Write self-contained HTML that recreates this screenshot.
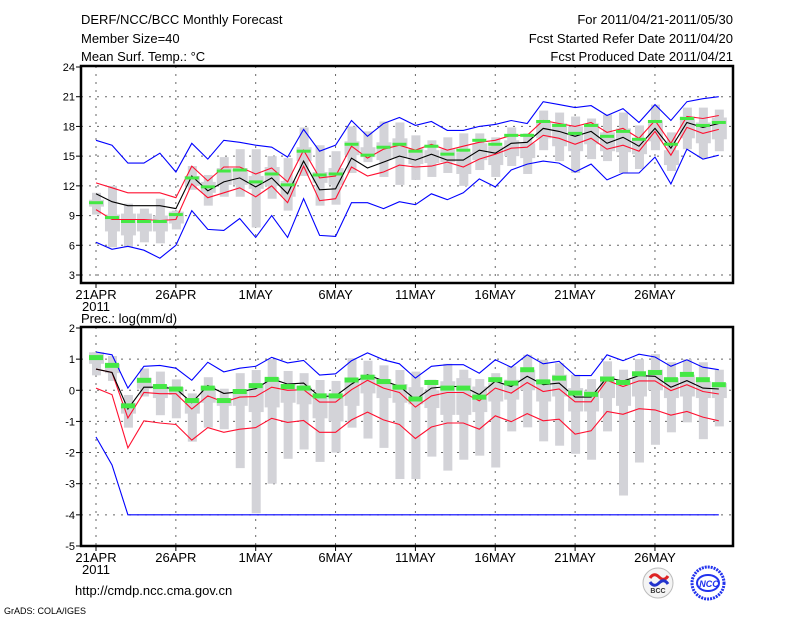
<!DOCTYPE html>
<html><head><meta charset="utf-8"><style>
body{margin:0;background:#fff;}
svg{display:block;font-family:"Liberation Sans",sans-serif;}
.t{font-size:13px;fill:#000;}
.s{font-size:11px;fill:#000;}
</style></head><body>
<svg id="chart" width="800" height="618" viewBox="0 0 800 618" xmlns="http://www.w3.org/2000/svg">
<rect width="800" height="618" fill="#fff"/>
<text class="t" x="81" y="24">DERF/NCC/BCC Monthly Forecast</text>
<text class="t" x="81" y="43">Member Size=40</text>
<text class="t" x="81" y="61">Mean Surf. Temp.: °C</text>
<text class="t" x="733" y="24" text-anchor="end">For 2011/04/21-2011/05/30</text>
<text class="t" x="733" y="43" text-anchor="end">Fcst Started Refer Date 2011/04/20</text>
<text class="t" x="733" y="61" text-anchor="end">Fcst Produced Date 2011/04/21</text>
<text class="t" x="81" y="323">Prec.: log(mm/d)</text>
<text class="t" x="75" y="595">http://cmdp.ncc.cma.gov.cn</text>
<text x="4" y="614" style="font-size:9px">GrADS: COLA/IGES</text>
<g>
<circle cx="658" cy="583" r="15" fill="#f4f4f4" stroke="#bbb"/>
<path d="M650 578 q4 -6 9 -1 q5 5 9 -1" stroke="#d22" stroke-width="3" fill="none"/>
<path d="M650 582 q4 6 9 1 q5 -5 9 1" stroke="#23c" stroke-width="3" fill="none"/>
<text x="658" y="593" text-anchor="middle" style="font-size:7px;font-weight:bold" fill="#333">BCC</text>
</g>
<g>
<circle cx="708" cy="583" r="16" fill="none" stroke="#23e" stroke-width="3" stroke-dasharray="2 1"/>
<ellipse cx="708" cy="583" rx="11" ry="8" fill="none" stroke="#23e" stroke-width="2"/>
<text x="709" y="587" text-anchor="middle" style="font-size:9px;font-weight:bold;font-style:italic" fill="#23e">NCC</text>
</g>
<g id="top"></g>
<g id="bot"></g>
</svg>
<script>
// Day index 0..39 starting 21APR 2011
const xTickDays = [0,5,10,15,20,25,30,35];
const xTickLabels = ["21APR","26APR","1MAY","6MAY","11MAY","16MAY","21MAY","26MAY"];

// ---- Temperature panel ----
const tTicks = [3,6,9,12,15,18,21,24];
const tBlueHi = [16.6,16.1,14.3,14.3,15.3,13.4,16.3,14.7,16.6,16.4,16.1,15.9,14.9,17.7,15.5,16.1,18.6,17.0,18.3,18.9,18.1,18.5,17.6,17.6,18.0,18.2,18.6,18.3,20.5,20.2,19.9,20.1,19.1,19.8,18.4,20.2,18.6,20.5,20.8,21.0];
const tBlueLo = [6.3,5.6,5.9,5.5,4.7,6.0,9.5,7.6,7.5,8.7,6.8,9.0,6.8,10.7,7.0,6.9,10.3,10.3,9.7,10.4,10.1,11.2,10.6,11.3,12.7,11.9,13.6,14.2,14.5,14.3,13.4,14.2,12.6,13.3,13.3,14.9,12.2,15.7,14.7,15.1];
const tRedHi = [12.3,11.8,11.3,11.3,11.3,10.8,14.0,12.5,13.9,13.9,13.2,13.8,12.4,15.6,12.8,13.0,16.0,14.8,15.7,16.1,15.6,16.2,15.6,16.0,16.4,16.6,17.1,17.1,18.6,18.3,18.0,18.4,17.4,17.8,16.8,18.6,16.3,19.0,18.8,19.1];
const tRedLo = [9.6,8.6,8.6,8.6,8.5,8.6,12.2,10.8,11.3,11.8,10.9,12.0,10.3,14.0,10.5,10.7,13.9,13.0,13.4,14.1,13.9,14.0,14.4,13.9,14.7,15.2,15.8,15.9,17.1,16.8,16.2,16.8,15.7,16.1,15.5,17.5,15.1,17.9,17.3,17.7];
const tMean = [11.2,10.4,10.0,10.0,10.0,9.7,13.0,11.5,12.4,12.8,11.9,12.8,11.2,14.5,11.6,11.7,14.8,13.8,14.4,15.0,14.6,15.2,14.6,14.6,15.6,15.3,16.3,16.4,17.8,17.5,17.0,17.5,16.3,16.9,16.0,17.8,15.8,18.4,17.9,18.3];
const tGreen = [10.3,8.8,8.4,8.4,8.4,9.1,12.8,11.9,13.5,13.6,12.4,13.2,12.1,15.5,13.1,13.2,16.2,15.1,15.9,16.2,15.5,16.0,15.2,15.6,16.6,16.2,17.1,17.1,18.5,18.1,17.3,18.1,17.0,17.5,16.7,18.5,16.2,18.8,18.1,18.4];
const tMin = [9.1,5.8,5.8,6.3,6.2,7.6,11.6,10.0,10.9,10.9,7.8,10.7,9.5,13.0,10.0,10.1,13.3,14.4,12.9,12.1,12.6,12.9,13.3,12.0,13.6,12.9,14.0,13.2,15.6,14.5,13.3,14.7,14.5,13.3,13.7,15.6,13.5,15.7,14.8,15.5];
const tMax = [11.3,12.0,10.2,9.7,10.7,9.5,14.0,13.1,14.9,15.7,15.7,15.0,14.8,17.9,16.1,15.5,18.0,17.5,18.5,18.4,17.1,16.6,16.9,17.3,17.3,16.9,17.9,17.3,19.6,19.4,19.0,18.8,19.2,19.4,18.1,20.2,17.4,19.9,19.9,19.7];
const tQ1 = [9.9,7.4,7.0,7.4,7.4,8.2,12.0,11.3,12.1,12.1,11.7,12.0,10.9,14.5,12.3,12.1,15.1,14.9,14.6,14.8,14.2,14.3,14.4,13.2,14.6,14.1,15.0,14.8,16.8,16.0,15.5,16.2,15.5,15.4,15.2,16.5,14.1,16.8,16.3,16.7];
const tQ3 = [10.6,9.1,9.2,9.2,9.0,9.4,13.0,12.4,13.8,13.8,13.0,13.9,12.5,15.9,13.4,13.8,16.5,15.9,16.4,16.8,15.8,15.6,15.7,15.4,16.3,16.0,16.6,16.3,18.4,18.3,18.0,18.3,17.4,17.8,16.7,18.6,15.6,19.0,18.4,18.9];

// ---- Precipitation panel ----
const pTicks = [-5,-4,-3,-2,-1,0,1,2];
const pBlueHi = [1.23,1.14,0.07,0.77,0.8,0.71,0.32,0.9,0.59,0.71,0.77,1.06,0.88,0.96,0.49,0.53,0.95,1.2,0.98,0.85,0.39,0.77,0.82,0.82,0.55,0.98,0.74,1.14,0.85,0.93,0.47,0.47,1.14,0.95,1.16,1.07,0.77,0.98,0.74,0.66];
const pBlueLo = [-1.5,-2.4,-4,-4,-4,-4,-4,-4,-4,-4,-4,-4,-4,-4,-4,-4,-4,-4,-4,-4,-4,-4,-4,-4,-4,-4,-4,-4,-4,-4,-4,-4,-4,-4,-4,-4,-4,-4,-4,-4];
const pRedHi = [0.68,0.57,-0.89,-0.07,-0.11,-0.11,-0.6,-0.18,-0.38,-0.22,-0.2,0.1,0.0,0.02,-0.38,-0.38,0.02,0.32,0.07,-0.07,-0.54,-0.18,-0.07,-0.07,-0.34,0.07,-0.09,0.25,-0.04,0.04,-0.37,-0.37,0.32,0.12,0.3,0.3,-0.01,0.18,-0.04,-0.12];
const pRedLo = [0.07,-0.14,-1.85,-0.98,-1.05,-1.1,-1.6,-1.2,-1.35,-1.25,-1.2,-0.9,-1.03,-0.97,-1.35,-1.35,-0.95,-0.7,-0.95,-1.1,-1.55,-1.18,-1.05,-1.05,-1.25,-0.82,-1.01,-0.75,-0.98,-0.93,-1.41,-1.3,-0.68,-0.77,-0.59,-0.63,-0.8,-0.68,-0.86,-0.98];
const pMean = [0.68,0.57,-0.6,0.1,0.1,0.05,-0.4,0.15,-0.1,-0.05,0.05,0.37,0.2,0.23,-0.2,-0.18,0.2,0.5,0.3,0.13,-0.3,0.07,0.12,0.12,-0.14,0.29,0.12,0.45,0.18,0.23,-0.22,-0.22,0.41,0.29,0.47,0.45,0.1,0.31,0.07,0.04];
const pGreen = [1.05,0.8,-0.5,0.32,0.12,0.04,-0.33,0.07,-0.33,-0.04,0.15,0.35,0.12,0.07,-0.18,-0.18,0.33,0.42,0.28,0.1,-0.28,0.25,0.07,0.07,-0.22,0.34,0.23,0.66,0.27,0.39,-0.09,-0.13,0.36,0.25,0.53,0.57,0.34,0.51,0.34,0.18];
const pMin = [0.48,0.3,-1.2,-0.2,-0.8,-0.9,-1.65,-1.2,-1.25,-2.5,-3.95,-3.0,-2.2,-1.9,-2.3,-2.0,-1.2,-1.55,-1.85,-2.85,-2.85,-2.13,-2.58,-2.23,-2.1,-2.48,-1.32,-1.19,-1.64,-1.78,-2.04,-2.23,-1.32,-3.38,-2.32,-1.75,-1.35,-1.03,-1.57,-1.16];
const pMax = [1.22,1.1,-0.15,0.7,0.6,0.35,-0.1,0.42,0.05,0.55,0.65,1.0,0.62,0.55,0.33,0.3,1.03,0.95,0.8,0.65,0.6,0.34,0.85,0.66,0.36,0.55,0.77,1.14,0.98,0.87,0.5,0.36,0.93,0.66,1.0,1.16,0.9,1.0,0.9,0.66];
const pQ1 = [0.85,0.55,-0.75,0.05,-0.25,-0.15,-0.75,-0.4,-0.5,-0.5,-0.7,-0.55,-0.4,-0.45,-0.9,-1.0,-0.5,-0.1,-0.25,-0.4,-0.45,-0.57,-0.79,-0.79,-0.7,-0.36,-0.3,0.0,-0.36,-0.2,-0.68,-0.68,-0.25,-0.5,-0.2,0.0,-0.25,-0.2,-0.25,-0.25];
const pQ3 = [1.22,0.85,-0.4,0.4,0.15,0.1,-0.25,0.12,-0.25,0.0,0.2,0.4,0.2,0.1,-0.1,-0.1,0.35,0.5,0.35,0.2,0.1,0.0,0.29,0.39,0.12,0.23,0.34,0.66,0.34,0.5,0.07,0.0,0.45,0.34,0.5,0.66,0.39,0.5,0.29,0.23];

const NS = "http://www.w3.org/2000/svg";
const L = 81, R = 733, X0 = 96, DX = 15.97;
function xs(d){ return X0 + d*DX; }
function mk(tag, attrs, parent){
  const e = document.createElementNS(NS, tag);
  for (const k in attrs) e.setAttribute(k, attrs[k]);
  parent.appendChild(e);
  return e;
}

function panel(g, cfg){
  const ys = v => cfg.y0 + (cfg.v0 - v)*cfg.k;
  // grid
  cfg.ticks.forEach(v => {
    const y = ys(v);
    if (y > cfg.top+2 && y < cfg.bottom-2) {
      const gl = mk('line', {x1:L, x2:R, y1:y, y2:y, stroke:'#666', 'stroke-dasharray':'2 6', 'stroke-width':1}, g);
      
      
    }
    const tk = mk('line', {x1:L-5, x2:L, y1:y, y2:y, stroke:'#000'}, g);
    
    
    const tl = mk('text', {x:L-6, y:y+4, 'text-anchor':'end', class:'s'}, g);
    tl.textContent = String(v);
    
    
  });
  xTickDays.forEach((d, i) => {
    const x = xs(d);
    const gl = mk('line', {x1:x, x2:x, y1:cfg.top, y2:cfg.bottom, stroke:'#666', 'stroke-dasharray':'2 6', 'stroke-width':1}, g);
    
    
    const tk = mk('line', {x1:x, x2:x, y1:cfg.bottom, y2:cfg.bottom+5, stroke:'#000'}, g);
    
    
    const tl = mk('text', {x:x, y:cfg.bottom+16, 'text-anchor':'middle', class:'t'}, g);
    tl.textContent = xTickLabels[i];
    
    
  });
  const yr = mk('text', {x:xs(0), y:cfg.bottom+28, 'text-anchor':'middle', class:'t'}, g);
  yr.textContent = '2011';
  
  
  // boxes
  cfg.min.forEach((v, d) => {
    const x = xs(d);
    const w = mk('rect', {x:x-4, y:ys(cfg.max[d]), width:9, height:Math.max(1, ys(v)-ys(cfg.max[d])), fill:'#d3d3d8'}, g);
    
    
    const b = mk('rect', {x:x-7, y:ys(cfg.q3[d]), width:15, height:Math.max(1, ys(cfg.q1[d])-ys(cfg.q3[d])), fill:'#d3d3d8'}, g);
    
    
  });
  function line(arr, color, name){
    const p = mk('polyline', {points: arr.map((v,d)=>xs(d).toFixed(1)+','+ys(v).toFixed(1)).join(' '), fill:'none', stroke:color, 'stroke-width':1.1}, g);
    
    
  }
  line(cfg.bhi, '#0000ff', 'blue-upper-line');
  line(cfg.blo, '#0000ff', 'blue-lower-line');
  line(cfg.rhi, '#ff1030', 'red-upper-line');
  line(cfg.rlo, '#ff1030', 'red-lower-line');
  line(cfg.mean, '#000', 'ensemble-mean-line');
  cfg.green.forEach((v, d) => {
    const m = mk('rect', {x:xs(d)-7, y:ys(v)-cfg.gh/2, width:14, height:cfg.gh, fill:'#44e844'}, g);
    
    
  });
  const fr = mk('rect', {x:L, y:cfg.top, width:R-L, height:cfg.bottom-cfg.top, fill:'none', stroke:'#000', 'stroke-width':2.5}, g);
  
  
}

panel(document.getElementById('top'), {top:66, bottom:283, y0:67, v0:24, k:9.905, ticks:tTicks,
  bhi:tBlueHi, blo:tBlueLo, rhi:tRedHi, rlo:tRedLo, mean:tMean, green:tGreen, min:tMin, max:tMax, q1:tQ1, q3:tQ3, gh:3});
panel(document.getElementById('bot'), {top:327, bottom:546, y0:328, v0:2, k:31.14, ticks:pTicks,
  bhi:pBlueHi, blo:pBlueLo, rhi:pRedHi, rlo:pRedLo, mean:pMean, green:pGreen, min:pMin, max:pMax, q1:pQ1, q3:pQ3, gh:5});
</script>
</body></html>
